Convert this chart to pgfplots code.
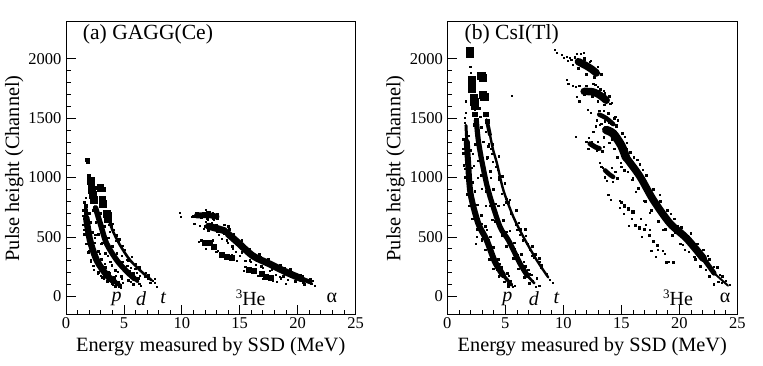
\documentclass[border=0pt]{standalone}
\usepackage{fontspec}
\setmainfont{Liberation Serif}
\usepackage{pgfplots}
\pgfplotsset{compat=1.18}
\tikzset{lab/.style={font=\fontsize{20}{21}\selectfont,inner sep=0pt}}
\newcommand{\sthe}{\raisebox{7pt}{\fontsize{13}{13}\selectfont 3}He}
\pgfplotsset{
  panel/.style={
    scale only axis, width=289.5pt, height=293.3pt, anchor=south west,
    xmin=0, xmax=25, ymin=-157, ymax=2312,
    xtick={0,5,...,25}, ytick={0,500,...,2000},
    minor x tick num=4, minor y tick num=4,
    tick align=inside, xtick pos=bottom, ytick pos=left,
    major tick length=10pt, minor tick length=5pt,
    axis line style={line width=1pt}, tick style={line width=0.8pt,black},
    /pgf/number format/assume math mode=true,
    /pgf/number format/set thousands separator={},
    tick label style={font=\fontsize{16.5}{17}\selectfont},
    xticklabel style={yshift=1pt}, yticklabel style={xshift=-1pt},
    xlabel={Energy measured by SSD (MeV)}, ylabel={Pulse height (Channel)},
    every axis x label/.style={at={(axis description cs:0.5,0)},anchor=north,yshift=-19pt,font=\fontsize{20.3}{21}\selectfont},
    every axis y label/.style={at={(axis description cs:0,0.5)},rotate=90,anchor=south,yshift=39pt,font=\fontsize{20.3}{21}\selectfont},
    clip=true,
  },
  band/.style={black,line width=#1,no markers,line cap=round,line join=round,smooth},
  dots/.style={only marks,mark=square*,mark size=0.55pt,black,mark options={draw=black,fill=black,line width=0pt}},
  edge/.style={only marks,mark=square*,mark size=0.85pt,black,mark options={draw=black,fill=black,line width=0pt}},
  blob/.style={only marks,mark=square*,mark size=#1,black,mark options={draw=black,fill=black,line width=0pt}},
}
\begin{document}
\begin{tikzpicture}[x=1pt,y=1pt]
\path[use as bounding box] (0,0) rectangle (763,366);
% ---------- (a)
\begin{axis}[panel, at={(66pt,51pt)}]
\addplot[band=6.5pt] coordinates {(1.75,660)(2.07,474)(2.65,305)(3.5,180)(4.1,130)};
\addplot[band=4pt] coordinates {(1.72,730)(1.75,660)};
\addplot[band=4.5pt] coordinates {(4.1,130)(4.55,100)};
\addplot[band=5.5pt] coordinates {(2.55,745)(3.0,600)(3.5,445)(4.38,305)(5.24,210)(5.9,150)};
\addplot[band=3.5pt] coordinates {(5.9,150)(6.2,125)};
\addplot[band=2.6pt] coordinates {(3.63,670)(4.0,560)(4.66,432)(5.53,305)(6.65,196)(7.4,135)};
\addplot[edge] coordinates {
(1.5,720)(1.62,650)(1.52,600)(1.62,520)(1.75,440)(1.92,370)(2.15,305)(2.4,255)(2.8,200)(3.15,160)(3.6,125)(4.0,110)(4.3,85)(2.05,700)(2.12,620)(2.3,540)(2.5,450)(2.8,380)(3.08,310)(3.4,245)(3.8,195)(4.2,160)(4.55,120)(4.75,95)(1.65,750)
(2.4,720)(2.6,620)(2.8,520)(3.05,440)(3.4,360)(3.85,290)(4.3,220)(4.8,170)(5.4,135)(5.85,100)(2.95,700)(3.3,590)(3.7,490)(4.0,420)(4.4,360)(4.85,290)(5.3,255)(5.8,190)(6.15,150)(6.35,105)
(3.75,600)(4.0,610)(4.35,510)(4.6,480)(4.85,425)(5.05,390)(5.3,305)(5.7,330)(6.0,230)(6.35,240)(6.85,165)(7.15,175)(3.4,640)(3.85,700)
(11.0,670)(11.4,695)(11.7,660)(12.2,705)(12.7,700)(13.1,690)(12.2,650)(12.7,650)(13.1,650)(12.0,590)(12.4,610)(13.0,600)(13.7,600)(14.05,590)(12.3,555)(13.1,545)(13.7,530)(14.1,560)
(13.9,470)(14.5,520)(14.4,420)(15.2,470)(15.2,370)(15.9,395)(15.9,300)(16.7,350)(16.9,250)(17.5,315)(17.8,225)(18.5,260)(18.8,170)(19.4,225)(19.8,125)(20.3,180)(20.5,115)(21.1,140)
};
\addplot[band=5.8pt] coordinates {(11.3,680)(12.2,684)(13.0,672)};
\addplot[band=7pt] coordinates {(12.3,590)(13.0,572)(13.7,552)};
\addplot[band=7pt] coordinates {(14,525)(14.8,457)(16.15,340)(17.6,272)(19.1,200)(20.3,150)};
\addplot[band=4.5pt] coordinates {(20.3,150)(21.1,120)};
\addplot[blob=3.4pt] coordinates {(2.15,970)(2.2,930)(2.25,895)(2.3,850)(2.4,810)(2.98,912)(3.15,815)(3.22,780)(3.55,695)(3.65,650)};
\addplot[blob=1.6pt] coordinates {(1.9,1133)(2.0,1010)(2.7,915)(3.3,900)(3.4,770)(3.45,700)(1.75,760)(4.65,85)(4.4,105)(1.85,1150)};
\addplot[blob=2.5pt] coordinates {(12.0,450)(12.4,445)(12.8,415)(13.5,345)(13.9,328)(14.3,320)(15.8,225)(16.2,215)(16.9,190)(17.3,165)(17.7,155)};
\addplot[dots] coordinates {
(1.6,790)(1.75,830)(1.5,680)(1.6,560)(2.0,380)(2.15,290)(2.4,220)(2.75,190)(3.0,170)(1.95,620)(2.5,490)(2.95,360)(3.35,270)(3.75,205)(4.35,170)(4.05,95)(4.75,70)(4.9,110)(3.3,150)
(2.55,520)(3.15,450)(3.6,340)(3.95,260)(4.5,205)(4.85,150)(5.6,120)(6.45,85)(5.55,215)(6.3,150)
(3.8,540)(3.95,590)(4.1,555)(4.35,465)(4.55,460)(4.8,340)(5.2,350)(5.4,300)(5.6,240)(6.05,270)(6.1,200)(6.4,170)(6.9,195)(7.1,150)(7.3,110)(7.55,130)(7.65,110)(7.83,81)(7.7,145)
(9.85,700)(9.9,665)(10.9,665)(11.2,700)(11.8,700)(12.1,725)(12.4,710)(11.1,610)(11.6,595)(11.9,570)(12.1,625)(12.3,640)(12.6,620)(12.8,640)(11.5,460)(11.7,470)(12.1,395)(13.1,385)(12.7,470)
(13.2,520)(13.5,480)(14.0,450)(14.4,400)(14.7,370)(15.0,340)(15.5,300)(16.0,290)(16.4,265)(17.0,240)(17.6,215)(18.1,180)(18.5,160)(19.2,140)(19.9,125)(20.6,100)(21.2,105)(21.5,85)(21.3,130)(20.5,170)(19.7,190)(18.9,240)(18.0,265)(16.8,330)(15.9,385)(15.0,445)(14.5,515)(13.3,340)(13.0,370)(14.3,345)(14.8,300)(15.5,250)(15.4,215)(16.6,170)(17.0,145)(17.9,130)(18.2,120)(18.6,150)(19.0,105)
};
\node[lab,font=\fontsize{21.6}{22}\selectfont] at (axis cs:7.08,2205) {(a) GAGG(Ce)};
\node[lab] at (axis cs:4.38,-22) {\textit{p}};
\node[lab] at (axis cs:6.48,-17) {\textit{d}};
\node[lab] at (axis cs:8.41,-17) {\textit{t}};
\node[lab] at (axis cs:15.95,-10) {\sthe};
\node[lab] at (axis cs:22.95,-17) {α};
\end{axis}
% ---------- (b)
\begin{axis}[panel, at={(447.3pt,51pt)}, width=290pt]
\addplot[band=3pt] coordinates {(1.61,1440)(1.68,1300)};
\addplot[band=6pt] coordinates {(1.68,1300)(1.78,1147)(2.0,867)(2.67,614)(3.39,474)(4.1,292)(4.8,180)};
\addplot[band=3.5pt] coordinates {(4.8,180)(5.55,95)};
\addplot[band=5.2pt] coordinates {(2.5,1480)(2.67,1316)(2.96,1147)(3.4,940)(3.68,840)(4.54,586)(5.26,474)(6.26,278)(6.9,175)};
\addplot[band=2.6pt] coordinates {(6.9,175)(7.5,110)};
\addplot[band=3.8pt] coordinates {(3.4,1484)(3.68,1358)};
\addplot[band=2.4pt] coordinates {(3.68,1358)(3.95,1232)(4.28,1120)(4.83,895)(5.69,670)(6.55,502)(7.7,306)(8.7,160)};
\addplot[edge] coordinates {
(1.42,1320)(1.88,1350)(1.4,1200)(2.0,1230)(1.45,1100)(2.08,1080)(1.55,1000)(2.18,960)(1.72,860)(2.38,880)(1.92,760)(2.6,770)(2.2,650)(2.95,680)(2.6,560)(3.3,590)(3.0,470)(3.7,500)(3.3,390)(4.0,410)(3.65,310)(4.4,310)(4.0,230)(4.7,240)(4.45,170)(5.2,190)(4.95,120)(5.5,130)(5.3,85)
(2.3,1450)(2.95,1420)(2.45,1280)(3.15,1300)(2.7,1140)(3.45,1170)(2.95,1020)(3.7,1050)(3.35,880)(4.0,900)(3.75,760)(4.4,760)(4.15,630)(4.85,640)(4.75,530)(5.4,550)(5.1,420)(5.8,450)(5.7,320)(6.4,350)(6.15,230)(6.75,250)(6.65,160)(7.25,180)(7.1,110)
(2.35,1530)(2.85,1510)(2.3,1440)(2.4,1570)(2.75,1580)(3.95,1130)(4.45,1180)(4.45,1000)(4.75,1010)(5.05,790)(5.4,810)(5.5,710)(5.95,720)(6.3,560)(6.75,560)(6.95,440)(7.35,420)(7.6,350)(7.95,320)(8.15,260)(3.55,1260)(3.95,1280)
(10.7,1990)(11.0,2010)(11.3,1920)(11.8,2000)(12.0,1870)(12.4,1980)(12.7,1845)(13.0,1930)(13.3,1870)
(11.4,1770)(12.0,1770)(12.8,1780)(13.2,1740)(13.6,1710)(14.0,1680)(11.8,1700)(12.5,1680)(13.0,1640)(13.5,1610)(14.05,1620)
(13.1,1560)(13.5,1560)(13.9,1540)(14.4,1500)(14.6,1430)(13.6,1470)(14.1,1450)
(13.3,1450)(14.0,1460)(14.6,1440)(15.1,1370)(15.5,1290)(15.8,1210)(13.5,1340)(14.0,1290)(14.4,1240)(14.7,1170)(15.0,1090)
(15.3,1060)(16.1,1170)(15.95,980)(16.6,1110)(16.5,910)(17.2,1020)(17.1,800)(17.8,900)(17.6,720)(18.4,800)(18.2,630)(19.0,720)(18.8,560)(19.6,650)(19.4,510)(20.2,580)(20.1,440)(21.0,530)(20.5,390)(21.5,440)(21.3,330)(22.1,390)(21.8,250)(22.6,310)(22.6,170)(23.3,240)(23.4,120)(23.7,170)
(12.0,1300)(12.2,1240)(13.0,1300)(13.4,1220)(13.3,1090)(13.6,1000)(14.2,1080)(14.7,990)
};
\addplot[band=7.5pt] coordinates {(11.3,1975)(11.9,1945)(12.4,1915)(12.85,1880)};
\addplot[band=7.5pt] coordinates {(11.8,1725)(12.6,1720)(13.2,1690)(13.7,1650)};
\addplot[band=4.5pt] coordinates {(13.1,1530)(13.7,1500)(14.3,1450)};
\addplot[band=8.5pt] coordinates {(13.7,1400)(14.3,1370)(15.0,1270)(15.4,1170)};
\addplot[band=7.5pt] coordinates {(15.4,1170)(16.6,1010)(17.76,811)(19.2,614)(20.63,488)(22.07,320)};
\addplot[band=5pt] coordinates {(22.07,320)(23.0,195)};
\addplot[band=2pt] coordinates {(23.0,195)(24.2,90)};
\addplot[band=5pt] coordinates {(12.3,1285)(12.8,1255)(13.1,1245)};
\addplot[band=4.5pt] coordinates {(13.6,1060)(14.0,1025)(14.3,1005)};
\addplot[blob=3.6pt] coordinates {(1.96,2065)(1.96,2040)(2.1,1820)(2.12,1780)(2.15,1745)(2.3,1670)(2.35,1635)(2.4,1600)(2.95,1855)(3.05,1835)(3.1,1695)(3.2,1675)};
\addplot[blob=2.2pt] coordinates {(2.4,1530)(2.5,1480)(3.35,1530)(3.45,1470)};
\addplot[blob=1.1pt] coordinates {(15.0,790)(15.3,760)(15.6,735)(16.0,710)(16.2,595)(16.6,575)(17.0,560)(17.4,510)(17.8,460)(18.1,425)};
\addplot[dots] coordinates {
(5.6,1686)(2.0,1930)(2.05,1880)(1.6,1640)(1.5,1500)(1.6,1540)(1.55,1460)(1.4,1240)(1.5,1070)(1.7,970)(2.4,700)(2.55,500)(2.45,440)(2.95,610)(3.4,560)(3.6,470)(3.9,410)(4.5,270)(4.6,190)(5.3,170)(5.7,75)(5.85,90)(5.2,100)(4.3,220)(3.6,370)(3.0,480)(2.2,770)(1.8,1010)
(2.2,1200)(2.3,1100)(2.65,1000)(3.0,900)(3.35,760)(3.9,640)(4.7,510)(4.8,640)(5.1,540)(5.8,400)(6.1,350)(6.6,290)(7.0,220)(7.4,130)(7.65,80)(7.95,90)(7.75,150)(7.1,190)(6.8,180)(3.4,1160)(3.8,1000)(4.2,780)
(3.3,1380)(3.6,1280)(3.8,1240)(3.9,1200)(4.2,1090)(4.4,1060)(4.5,980)(4.75,860)(4.95,950)(5.1,820)(5.35,790)(5.5,690)(5.8,640)(5.9,600)(6.05,560)(6.3,520)(6.5,470)(6.8,510)(6.9,440)(7.1,390)(7.3,340)(7.5,320)(7.95,290)(8.1,240)(8.35,210)(8.6,185)(8.85,140)(9.14,109)(4.9,770)(6.2,620)
(9.28,2073)(9.45,2050)(9.9,2030)(10.05,2010)(10.3,2017)(10.4,1980)(10.6,2010)(10.8,1950)(11.2,2040)(11.5,2040)(11.8,2050)(11.3,2000)(11.9,1990)(12.3,1970)(12.8,1900)(13.3,1860)
(10.3,1820)(10.45,1790)(10.8,1770)(11.1,1760)(11.2,1680)(11.4,1640)(12.6,1790)(13.0,1760)(13.5,1730)(14.2,1630)(13.6,1610)(12.1,1570)(12.4,1540)(12.9,1480)(13.2,1440)(12.8,1430)(14.7,1480)(14.5,1510)(12.6,1380)(11.1,1340)(12.2,1330)(12.5,1300)(12.9,1220)(13.5,1260)(13.2,1120)(13.25,1090)(13.4,1080)(14.5,1050)(14.7,1000)(14.3,960)(13.8,970)
(14.2,1320)(15.3,1340)(15.5,1240)(15.0,1120)(15.6,1050)(16.0,1000)(16.4,1150)(16.9,1060)(17.1,950)(16.3,880)(17.0,800)(17.5,700)(18.3,850)(18.7,720)(19.3,690)(18.6,560)(19.6,530)(20.3,430)(20.8,370)(21.4,310)(22.3,220)(22.6,170)(23.0,100)(23.7,110)(24.0,130)(24.4,95)(21.0,530)(21.6,440)(22.5,340)(23.0,250)(23.5,180)(19.9,590)
(13.9,850)(14.1,810)(14.85,800)(14.9,740)(15.2,690)(15.9,650)(16.7,650)(15.7,590)(17.1,600)(17.5,560)(16.8,500)(17.6,380)(18.2,390)(18.6,380)(18.8,360)(18.0,330)(18.9,285)(19.1,290)(19.5,285)
};
\node[lab,font=\fontsize{21.6}{22}\selectfont] at (axis cs:5.55,2205) {(b) CsI(Tl)};
\node[lab] at (axis cs:5.17,-22) {\textit{p}};
\node[lab] at (axis cs:7.47,-17) {\textit{d}};
\node[lab] at (axis cs:9.43,-17) {\textit{t}};
\node[lab] at (axis cs:19.9,-10) {\sthe};
\node[lab] at (axis cs:23.94,-17) {α};
\end{axis}
\end{tikzpicture}
\end{document}
